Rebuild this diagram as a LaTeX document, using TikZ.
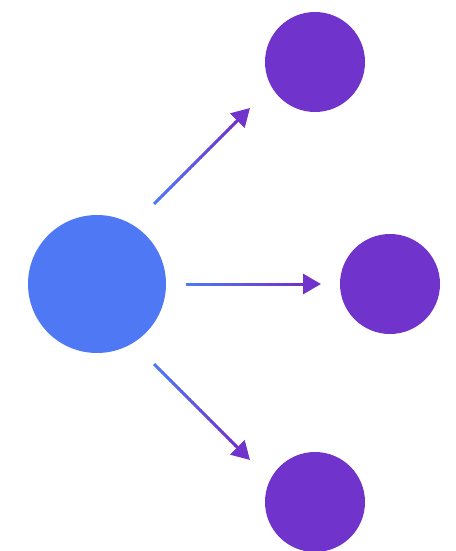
\documentclass[tikz,border=0pt]{standalone}
\usetikzlibrary{arrows.meta,calc}
\definecolor{cblue}{RGB}{79,120,245}
\definecolor{cpurple}{RGB}{112,51,204}
\newcommand\gradarrow[2]{%
  \foreach \i in {0,...,29} {
    \pgfmathsetmacro\ta{0.85*\i/30}
    \pgfmathsetmacro\tb{0.85*(\i+1)/30+0.005}
    \pgfmathtruncatemacro\pc{100*\i/29}
    \draw[link, draw=cpurple!\pc!cblue] ($(#1)!\ta!(#2)$) -- ($(#1)!\tb!(#2)$);
  }
  \draw[link, cpurple, -{Triangle[length=18pt,width=20pt]}] ($(#1)!0.84!(#2)$) -- (#2);
}
\begin{document}
\begin{tikzpicture}[x=1pt,y=-1pt,
  dot/.style={circle,fill=cpurple,minimum size=100pt,inner sep=0pt},
  hub/.style={circle,fill=cblue,minimum size=138pt,inner sep=0pt},
  link/.style={line width=3pt,line cap=butt}]
\useasboundingbox (0,0) rectangle (455,551);
\node[hub] (c) at (97,284) {};
\node[dot] (t) at (315,62) {};
\begin{scope}
  \clip (0,0) rectangle (440,551);
  \node[dot] (m) at (390,284) {};
\end{scope}
\node[dot] (b) at (315,502) {};
\coordinate (s1) at (154,204);
\coordinate (e1) at (250,108);
\coordinate (s2) at (186,284);
\coordinate (e2) at (321,284);
\coordinate (s3) at (154,364);
\coordinate (e3) at (250,460);
\gradarrow{s1}{e1}
\gradarrow{s2}{e2}
\gradarrow{s3}{e3}
\end{tikzpicture}
\end{document}
